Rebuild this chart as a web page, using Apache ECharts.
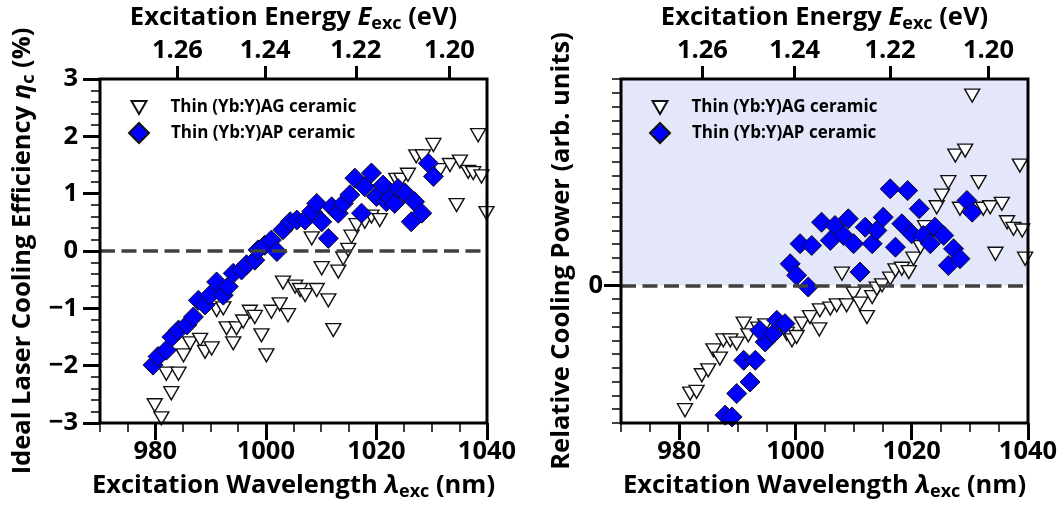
<!DOCTYPE html>
<html>
<head>
<meta charset="utf-8">
<script src="https://cdn.jsdelivr.net/npm/echarts@6/dist/echarts.min.js"></script>
<style>
  html, body { margin: 0; padding: 0; background: #fff; }
  #chart { width: 1064px; height: 513px; }
</style>
</head>
<body>
<div id="chart"></div>
<script>
// Series names
const nameAG = 'Thin (Yb:Y)AG ceramic';
const nameAP = 'Thin (Yb:Y)AP ceramic';

// Left panel: ideal laser cooling efficiency (%) vs excitation wavelength (nm)
const effAG = [
  [979.9,-2.69],[981.1,-2.92],[982.9,-2.48],[982.0,-2.14],[984.2,-2.14],[985.1,-1.82],
  [986.3,-1.61],[988.1,-1.55],[989.0,-1.76],[990.2,-1.70],[991.1,-1.03],[992.3,-1.00],
  [992.9,-1.35],[994.1,-1.61],[994.7,-1.35],[995.9,-1.23],[997.1,-1.06],[998.0,-1.15],
  [999.2,-1.47],[1000.1,-1.82],[1001.0,-1.06],[1002.5,-0.93],[1003.1,-0.55],[1004.0,-1.12],
  [1005.3,-0.62],[1006.2,-0.68],[1007.1,-0.77],[1009.2,-0.68],[1011.3,-0.86],[1012.2,-1.38],
  [1010.1,-0.30],[1013.1,-0.36],[1014.0,-0.13],[1014.9,0.02],[1008.3,0.22],[1015.5,0.25],
  [1016.4,0.45],[1017.9,0.51],[1019.1,0.60],[1020.6,0.54],[1023.6,1.24],[1024.5,1.24],
  [1025.7,1.33],[1027.2,1.65],[1028.4,1.65],[1030.3,1.85],[1031.5,1.41],[1033.3,1.50],
  [1035.1,1.56],[1036.6,1.38],[1037.5,1.36],[1039.0,1.30],[1038.4,2.02],[1034.5,0.80],
  [1039.9,0.66]
];
const effAP = [
  [979.6,-1.99],[980.5,-1.84],[982.0,-1.73],[983.0,-1.50],[984.2,-1.38],[985.7,-1.29],
  [986.9,-1.15],[987.8,-0.86],[989.0,-0.94],[989.9,-0.77],[991.1,-0.54],[992.3,-0.77],
  [993.2,-0.62],[994.1,-0.39],[995.6,-0.33],[996.5,-0.24],[998.0,-0.16],[998.6,0.02],
  [999.8,0.10],[1001.0,0.19],[1002.0,-0.01],[1003.1,0.37],[1004.4,0.51],[1005.6,0.54],
  [1007.1,0.54],[1008.3,0.69],[1009.2,0.83],[1010.1,0.51],[1011.3,0.22],[1011.9,0.77],
  [1013.1,0.66],[1014.0,0.83],[1015.2,0.98],[1016.1,1.27],[1017.3,0.66],[1017.9,1.12],
  [1019.1,1.36],[1020.0,0.95],[1021.2,1.15],[1021.8,0.86],[1022.4,0.92],[1023.3,0.83],
  [1023.9,1.09],[1025.2,1.01],[1026.3,0.51],[1026.9,0.86],[1028.2,0.66],[1029.4,1.53],
  [1030.3,1.30]
];

// Right panel: relative cooling power (arb. units) vs excitation wavelength (nm)
const powAG = [
  [981.0,-9.07],[981.9,-7.86],[983.0,-7.74],[983.9,-6.53],[985.0,-6.17],[985.9,-4.72],
  [987.0,-5.32],[987.6,-3.99],[988.8,-3.99],[989.9,-4.23],[991.1,-2.78],[991.9,-3.63],
  [993.6,-3.14],[994.8,-2.90],[998.5,-3.51],[999.4,-3.99],[1000.2,-3.75],[1001.1,-2.78],
  [1002.5,-2.30],[1004.2,-1.81],[1004.1,-3.20],[1006.0,-1.69],[1007.1,-1.45],[1008.8,-1.45],
  [1008.0,0.85],[1010.0,-0.60],[1011.1,-1.33],[1012.3,-2.30],[1013.2,-0.85],[1014.0,-0.24],
  [1014.9,0.00],[1016.3,0.49],[1017.2,1.09],[1018.3,1.21],[1019.5,0.97],[1020.3,1.94],
  [1021.5,2.78],[1022.3,4.23],[1024.3,5.68],[1025.2,6.53],[1026.3,7.50],[1027.5,9.43],
  [1029.2,9.80],[1030.4,13.79],[1031.5,7.50],[1028.3,5.57],[1032.3,5.57],[1033.5,5.68],
  [1035.5,5.93],[1034.4,2.30],[1036.4,4.59],[1037.5,4.11],[1039.0,3.99],[1038.6,8.71],
  [1039.5,1.94]
];
const powAP = [
  [987.9,-9.43],[989.1,-9.56],[989.9,-7.86],[992.2,-7.02],[991.1,-5.44],[993.1,-5.44],
  [994.8,-4.11],[993.9,-3.27],[996.2,-3.51],[996.8,-2.54],[998.2,-2.78],[999.1,1.57],
  [1000.2,0.73],[1002.2,-0.12],[1000.8,3.03],[1002.8,2.90],[1004.5,4.59],[1006.0,3.27],
  [1006.8,4.35],[1008.3,3.63],[1009.1,4.84],[1010.0,3.03],[1011.1,0.97],[1012.0,4.23],
  [1013.2,3.03],[1014.0,3.99],[1015.1,4.96],[1016.3,7.02],[1017.2,2.78],[1018.3,4.48],
  [1019.3,6.89],[1020.0,3.75],[1021.3,5.57],[1022.0,3.63],[1023.2,3.03],[1024.0,4.23],
  [1025.5,3.63],[1026.3,1.45],[1027.2,2.66],[1028.3,1.94],[1029.5,6.17],[1030.4,5.32]
];

// Axis ticks and ranges
const wavelengthLabels = [980, 1000, 1020, 1040];
const energyLabels = [1.26, 1.24, 1.22, 1.20];
const powerLabels = [0];
const lambdaRange = [970, 1040];
const effRange = [-3, 3];
const powRange = [-10, 15];
const HC = 1239.84; // eV*nm, E = HC / lambda

const FONT = 'Open Sans';
const ink = '#000';
const triPath = 'path://M0,0 L10,0 L5,8.66 Z';
const minus = v => (v < 0 ? '\u2212' + Math.abs(v) : String(v));

const richTitle = {
  b: { fontFamily: FONT, fontWeight: 'bold', fontSize: 25.5, color: ink },
  i: { fontFamily: FONT, fontWeight: 'bold', fontStyle: 'italic', fontSize: 25.5, color: ink },
  s: { fontFamily: FONT, fontWeight: 'bold', fontSize: 18, color: ink, padding: [12, 0, 0, 0] }
};
const labelStyle = { fontFamily: FONT, fontWeight: 'bold', fontSize: 25.5, color: ink };
// the plot frame is drawn separately, so axis lines stay hidden
const noLine = () => ({ show: false, onZero: false });
const majorTick = () => ({ show: true, length: 17, lineStyle: { color: ink, width: 3 } });
const minorTickStyle = () => ({ show: true, length: 9, lineStyle: { color: ink, width: 1.5 } });

function wavelengthAxes(grid) {
  return [
    { // labelled bottom axis
      type: 'value', gridIndex: grid, position: 'bottom', min: lambdaRange[0], max: lambdaRange[1],
      axisLine: noLine(),
      axisTick: Object.assign({ customValues: wavelengthLabels }, majorTick()),
      axisLabel: Object.assign({ customValues: wavelengthLabels, margin: 16, formatter: v => String(v) }, labelStyle),
      splitLine: { show: false },
      name: '{b|Excitation Wavelength }{i|\u03bb}{s|exc}{b| (nm)}',
      nameLocation: 'middle', nameGap: 48,
      nameTextStyle: { rich: richTitle }
    },
    { // 5 nm minor ticks
      type: 'value', gridIndex: grid, position: 'bottom', min: lambdaRange[0], max: lambdaRange[1], interval: 5,
      axisLine: noLine(),
      axisTick: minorTickStyle(),
      axisLabel: { show: false }, splitLine: { show: false }
    },
    { // photon energy on top
      type: 'value', gridIndex: grid, position: 'top', min: lambdaRange[0], max: lambdaRange[1],
      axisLine: noLine(),
      axisTick: { show: true, customValues: energyLabels.map(e => HC / e), length: 13, lineStyle: { color: ink, width: 3 } },
      axisLabel: Object.assign({
        customValues: energyLabels.map(e => HC / e), margin: 15,
        formatter: v => (HC / v).toFixed(2)
      }, labelStyle),
      splitLine: { show: false },
      name: '{b|Excitation Energy }{i|E}{s|exc}{b| (eV)}',
      nameLocation: 'middle', nameGap: 46,
      nameTextStyle: { rich: richTitle }
    }
  ];
}

const zeroLine = () => ({
  silent: true, symbol: 'none', label: { show: false },
  lineStyle: { color: '#404040', width: 3.5, type: [15, 6.5] },
  data: [{ yAxis: 0 }]
});

const agStyle = {
  type: 'scatter', symbol: triPath, symbolSize: [15, 13],
  itemStyle: { color: '#fff', borderColor: '#111', borderWidth: 1.4, opacity: 1 }
};
const apStyle = {
  type: 'scatter', symbol: 'diamond', symbolSize: [20, 20],
  itemStyle: { color: '#0000ff', borderColor: '#111', borderWidth: 1, opacity: 1 }
};

function legendPair(x) {
  const text = { fontFamily: FONT, fontWeight: 'bold', fontSize: 17, color: ink };
  return [
    {
      data: [{ name: nameAG, icon: triPath }], left: x + 2.5, top: 94, orient: 'vertical',
      itemWidth: 15, itemHeight: 13, selectedMode: false,
      textStyle: Object.assign({ padding: [0, 0, 0, 19] }, text)
    },
    {
      data: [{ name: nameAP, icon: 'diamond' }], left: x, top: 117, orient: 'vertical',
      itemWidth: 20, itemHeight: 20, selectedMode: false,
      textStyle: Object.assign({ padding: [0, 0, 0, 17] }, text)
    }
  ];
}

const option = {
  animation: false,
  backgroundColor: '#fff',
  grid: [
    { left: 100, top: 79, width: 387, height: 344 },
    { left: 621, top: 79, width: 407, height: 344 }
  ],
  legend: legendPair(123).concat(legendPair(644)),
  xAxis: wavelengthAxes(0).concat(wavelengthAxes(1)),
  yAxis: [
    { // efficiency
      type: 'value', gridIndex: 0, position: 'left', min: effRange[0], max: effRange[1], interval: 1,
      axisLine: noLine(),
      axisTick: majorTick(),
      minorTick: { show: true, splitNumber: 5, length: 9, lineStyle: { color: ink, width: 1.5 } },
      axisLabel: Object.assign({ margin: 22, formatter: minus }, labelStyle),
      splitLine: { show: false },
      name: '{b|Ideal Laser Cooling Efficiency }{i|\u03b7}{s|c}{b| (%)}',
      nameLocation: 'middle', nameRotate: 90, nameGap: 62,
      nameTextStyle: { rich: richTitle }
    },
    { // cooling power minor ticks
      type: 'value', gridIndex: 1, position: 'left', min: powRange[0], max: powRange[1], interval: 1,
      axisLine: noLine(),
      axisTick: minorTickStyle(),
      axisLabel: { show: false }, splitLine: { show: false }
    },
    { // cooling power labelled tick
      type: 'value', gridIndex: 1, position: 'left', offset: 0, min: powRange[0], max: powRange[1],
      axisLine: noLine(),
      axisTick: Object.assign({ customValues: powerLabels }, majorTick()),
      axisLabel: Object.assign({ customValues: powerLabels, margin: 18, formatter: minus }, labelStyle),
      splitLine: { show: false },
      name: '{b|Relative Cooling Power (arb. units)}',
      nameLocation: 'middle', nameRotate: 90, nameGap: 46,
      nameTextStyle: { rich: richTitle }
    }
  ],
  series: [
    Object.assign({ name: nameAG, xAxisIndex: 0, yAxisIndex: 0, data: effAG, markLine: zeroLine(), z: 3 }, agStyle),
    Object.assign({ name: nameAP, xAxisIndex: 0, yAxisIndex: 0, data: effAP, z: 4 }, apStyle),
    Object.assign({
      name: nameAG, xAxisIndex: 3, yAxisIndex: 1, data: powAG, z: 3,
      markArea: { silent: true, itemStyle: { color: '#e4e6fa', opacity: 1 }, data: [[{ yAxis: 0 }, { yAxis: powRange[1] }]] },
      markLine: zeroLine()
    }, agStyle),
    Object.assign({ name: nameAP, xAxisIndex: 3, yAxisIndex: 1, data: powAP, z: 4 }, apStyle)
  ]
};

const chart = echarts.init(document.getElementById('chart'), null, { renderer: 'canvas' });
chart.setOption(option);

// Plot frames: corners come from each panel's own axis scales
function frameFor(gridIndex, yRange) {
  const p0 = chart.convertToPixel({ gridIndex: gridIndex }, [lambdaRange[0], yRange[1]]);
  const p1 = chart.convertToPixel({ gridIndex: gridIndex }, [lambdaRange[1], yRange[0]]);
  return {
    type: 'rect', z: 100, silent: true,
    shape: { x: p0[0], y: p0[1], width: p1[0] - p0[0], height: p1[1] - p0[1] },
    style: { fill: null, stroke: ink, lineWidth: 3 }
  };
}
chart.setOption({ graphic: [frameFor(0, effRange), frameFor(1, powRange)] });
</script>
</body>
</html>
